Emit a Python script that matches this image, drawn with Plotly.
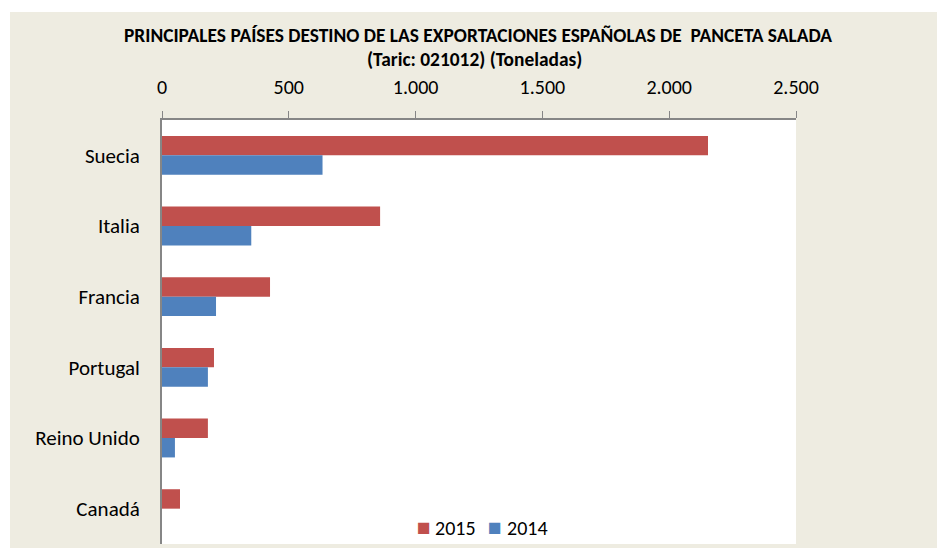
import plotly.graph_objects as go

countries = ["Suecia", "Italia", "Francia", "Portugal", "Reino Unido", "Canadá"]
values_2015 = [2153, 860, 426, 205, 181, 71]
values_2014 = [633, 352, 213, 181, 51, 0]
tick_vals = [0, 500, 1000, 1500, 2000, 2500]
series_names = ["2015", "2014"]

RED = "#C0504D"
BLUE = "#4F81BD"
FONT = "Carlito, Lato, sans-serif"

fig = go.Figure()
fig.add_trace(go.Bar(y=countries, x=values_2015, orientation="h", name=series_names[0],
                     marker=dict(color=RED, line=dict(width=0))))
fig.add_trace(go.Bar(y=countries, x=values_2014, orientation="h", name=series_names[1],
                     marker=dict(color=BLUE, line=dict(width=0))))

W, H = 634, 424  # plot area size in px


def px(x):
    return (x - 162) / W


def py(y):
    return (544 - y) / H


legend_ann = []
for name, color, sq_x, tx_x in [(series_names[0], RED, 423.5, 433),
                                (series_names[1], BLUE, 494.5, 505)]:
    legend_ann.append(dict(text="■", xref="paper", yref="paper", x=px(sq_x), y=py(527),
                           xanchor="center", yanchor="middle", showarrow=False,
                           font=dict(size=14.5, family="DejaVu Sans", color=color)))
    legend_ann.append(dict(text=name, xref="paper", yref="paper", x=px(tx_x), y=py(528),
                           xanchor="left", yanchor="middle", showarrow=False,
                           font=dict(size=20, family=FONT)))

fig.update_layout(
    width=937, height=548,
    margin=dict(l=162, r=141, t=120, b=4, pad=0),
    paper_bgcolor="white",
    plot_bgcolor="white",
    separators=",.",
    barmode="group",
    bargap=0.45,
    bargroupgap=0,
    font=dict(family=FONT, color="#000000"),
    showlegend=False,
    shapes=[dict(type="rect", xref="paper", yref="paper", layer="below",
                 x0=px(10), x1=px(937), y0=py(548), y1=py(12),
                 fillcolor="#EEECE1", line=dict(width=0)),
            dict(type="rect", xref="paper", yref="paper", layer="below",
                 x0=0, x1=1, y0=0, y1=1, fillcolor="white", line=dict(width=0))],
    annotations=[
        dict(text="<b>PRINCIPALES PAÍSES DESTINO DE LAS EXPORTACIONES ESPAÑOLAS DE  PANCETA SALADA</b>",
             xref="paper", yref="paper", x=px(478), y=py(36),
             xanchor="center", yanchor="middle", showarrow=False,
             font=dict(size=19.4, family=FONT)),
        dict(text="<b>(Taric: 021012) (Toneladas)</b>",
             xref="paper", yref="paper", x=px(474), y=py(60),
             xanchor="center", yanchor="middle", showarrow=False,
             font=dict(size=19.4, family=FONT)),
    ] + legend_ann,
)

fig.update_xaxes(
    side="top", range=[0, 2500], tickvals=tick_vals, tickformat=",d",
    showgrid=False, zeroline=False,
    showline=True, linecolor="#868686", linewidth=2,
    ticks="outside", ticklen=7, tickcolor="#868686", tickwidth=1,
    tickfont=dict(size=20, family=FONT), ticklabelstandoff=9,
)
fig.update_yaxes(
    autorange="reversed", showgrid=False, zeroline=False,
    showline=True, linecolor="#868686", linewidth=2,
    ticks="", tickfont=dict(size=21, family=FONT), ticklabelstandoff=16,
)

fig.write_html("out.html", config={"displayModeBar": False},
               post_script="document.body.style.margin='0px';")
